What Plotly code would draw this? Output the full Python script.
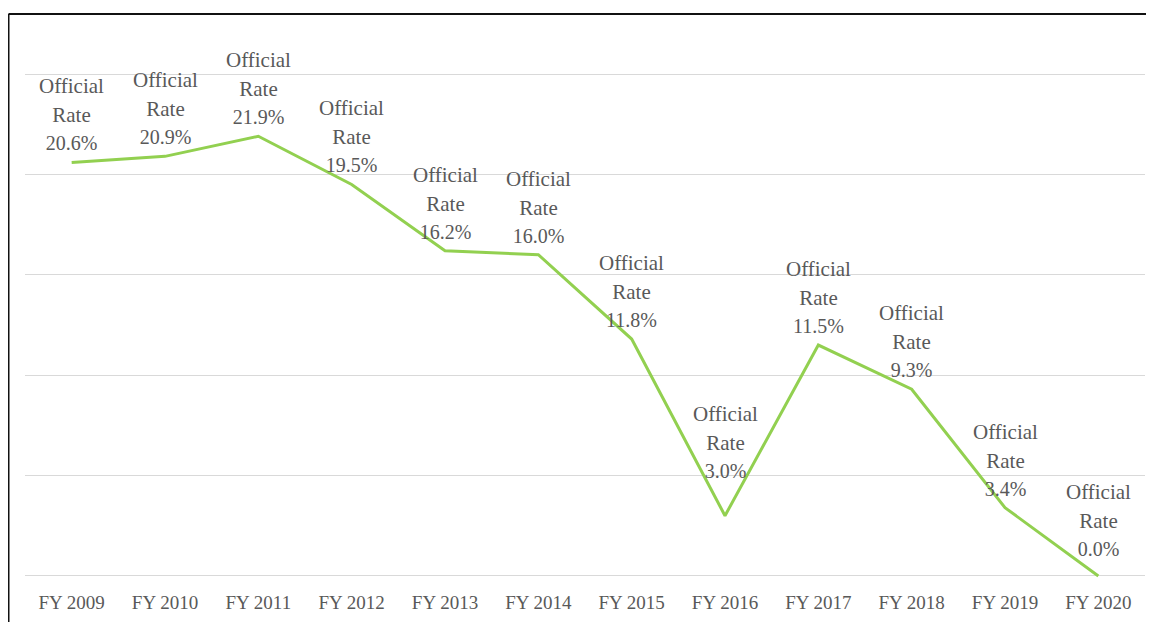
import plotly.graph_objects as go

categories = ["FY 2009", "FY 2010", "FY 2011", "FY 2012", "FY 2013", "FY 2014",
              "FY 2015", "FY 2016", "FY 2017", "FY 2018", "FY 2019", "FY 2020"]
official_rate = [20.6, 20.9, 21.9, 19.5, 16.2, 16.0, 11.8, 3.0, 11.5, 9.3, 3.4, 0.0]
series_name = "Official Rate"
grid_values = [0, 5, 10, 15, 20, 25]

# page body has an 8px margin; size the figure to fit the window
W, H = 1146, 614
L, R, T, B = 17, 9, 56, 36

fig = go.Figure()
fig.add_trace(go.Scatter(
    x=categories, y=official_rate, mode="lines",
    line=dict(color="#92D050", width=3),
    cliponaxis=False, hoverinfo="skip", showlegend=False,
))

for c, v in zip(categories, official_rate):
    shift = 6 if c not in ("FY 2016", "FY 2020") else (32 if c == "FY 2016" else 14)
    fig.add_annotation(
        x=c, y=v, xref="x", yref="y",
        text=f"<span style='font-size:21px'>Official</span><br>"
             f"<span style='font-size:21px'>Rate</span><br>"
             f"<span style='font-size:20px'>{v:.1f}%</span>",
        showarrow=False, yanchor="bottom", xanchor="center",
        yshift=shift, font=dict(family="Liberation Serif", size=22, color="#595959"),
    )

# chart frame (top and left edges)
pw, ph = W - L - R, H - T - B
x0 = (0.5 - L) / pw
y_top = (H - B - 6) / ph
y_bot = (-B - 2) / ph
fig.add_shape(type="line", xref="paper", yref="paper", x0=x0, x1=(W - L + 5) / pw,
              y0=y_top, y1=y_top, line=dict(color="#111111", width=2))
fig.add_shape(type="line", xref="paper", yref="paper", x0=x0, x1=x0,
              y0=y_top, y1=y_bot, line=dict(color="#111111", width=2))

fig.update_layout(
    width=W, height=H,
    margin=dict(l=L, r=R, t=T, b=B),
    paper_bgcolor="white", plot_bgcolor="white",
    font=dict(family="Liberation Serif", size=19, color="#595959"),
    xaxis=dict(type="category", range=[-0.5, 11.5], showgrid=False, zeroline=False,
               showline=False, ticks="", ticklabelstandoff=3,
               tickfont=dict(family="Liberation Serif", size=19, color="#595959"),
               fixedrange=True),
    yaxis=dict(range=[-0.5, 25.5], tickvals=grid_values, showgrid=True,
               gridcolor="#D9D9D9", gridwidth=1,
               zeroline=False, showticklabels=False, showline=False, fixedrange=True),
)

fig.write_html("out.html")
